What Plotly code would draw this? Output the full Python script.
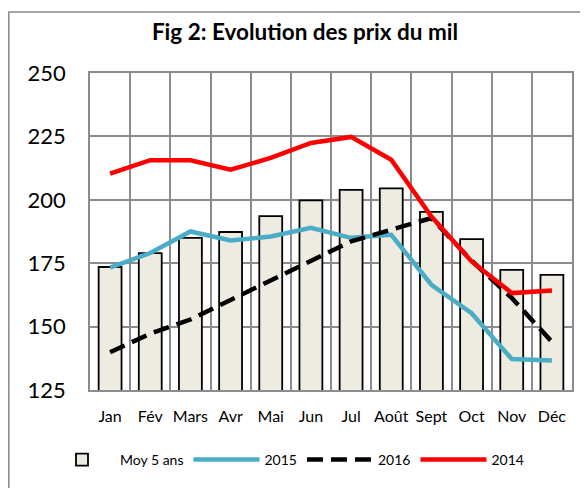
import plotly.graph_objects as go

months = ["Jan", "Fév", "Mars", "Avr", "Mai", "Jun", "Jul", "Août", "Sept", "Oct", "Nov", "Déc"]
moy5 = [173.5, 179, 185, 187.3, 193.6, 199.8, 203.9, 204.5, 195.2, 184.5, 172.4, 170.4]
y2015 = [173.3, 179, 187.5, 184, 185.5, 189, 185, 186.2, 166.5, 155.3, 137.2, 136.6]
y2016 = [139.9, 147.2, 152.8, 160.5, 168.4, 176.3, 183.6, 188.2, 192.8, 176, 161.3, 144]
y2014 = [210.3, 215.6, 215.6, 211.9, 216.5, 222.4, 224.8, 215.8, 193.4, 175.7, 163.2, 164.2]

FONT = "Lato"
# the page body adds an 8px offset; margins below compensate for it
L, T, R, B = 82, 65, 24, 106
PW, PH = 588 - L - R, 488 - T - B

fig = go.Figure()
fig.add_trace(go.Bar(x=months, y=moy5, name="Moy 5 ans", width=0.57,
                     marker=dict(color="#EEECE1", line=dict(color="black", width=1.8))))
fig.add_trace(go.Scatter(x=months, y=y2015, name="2015", mode="lines",
                         line=dict(color="#4BACC6", width=4.5)))
fig.add_trace(go.Scatter(x=months, y=y2016, name="2016", mode="lines",
                         line=dict(color="black", width=4.5, dash="16px,8px")))
fig.add_trace(go.Scatter(x=months, y=y2014, name="2014", mode="lines",
                         line=dict(color="#FF0000", width=4.5)))

fig.update_layout(
    width=588, height=488,
    margin=dict(l=L, r=R, t=T, b=B, autoexpand=False),
    paper_bgcolor="white", plot_bgcolor="white",
    font=dict(family=FONT, color="black"),
    title=dict(text="<b>Fig 2: Evolution des prix du mil</b>", x=297 / 588, xanchor="center",
               y=1 - 24 / 488, yanchor="middle", font=dict(size=22.5, family=FONT)),
    showlegend=True,
    legend=dict(orientation="h", xref="container", yref="container",
                x=36 / 588, xanchor="left", y=1 - 452 / 488, yanchor="middle",
                font=dict(size=14, family=FONT), traceorder="normal", itemwidth=66),
    bargap=0.43,
    shapes=[dict(type="rect", xref="paper", yref="paper", x0=(0.8 - L) / PW, x1=1.3, y0=-0.6,
                 y1=1 + (T - 4) / PH, line=dict(color="#888888", width=1.5),
                 fillcolor="rgba(0,0,0,0)", layer="below")],
)
fig.update_xaxes(type="category", tickson="boundaries", showgrid=True, gridcolor="#8c8c8c",
                 gridwidth=1.5, ticks="", showline=True, linecolor="#8c8c8c", linewidth=1.5,
                 mirror=True, tickfont=dict(size=16, family=FONT), ticklabelstandoff=11,
                 tickangle=0, automargin=False)
fig.update_yaxes(range=[125, 250], dtick=25, showgrid=True, gridcolor="#8c8c8c", gridwidth=1.5,
                 showline=True, linecolor="#8c8c8c", linewidth=1.5, mirror=True, ticks="",
                 tickfont=dict(size=22, family=FONT), ticklabelstandoff=18, zeroline=False,
                 automargin=False)

fig.write_html("out.html")
